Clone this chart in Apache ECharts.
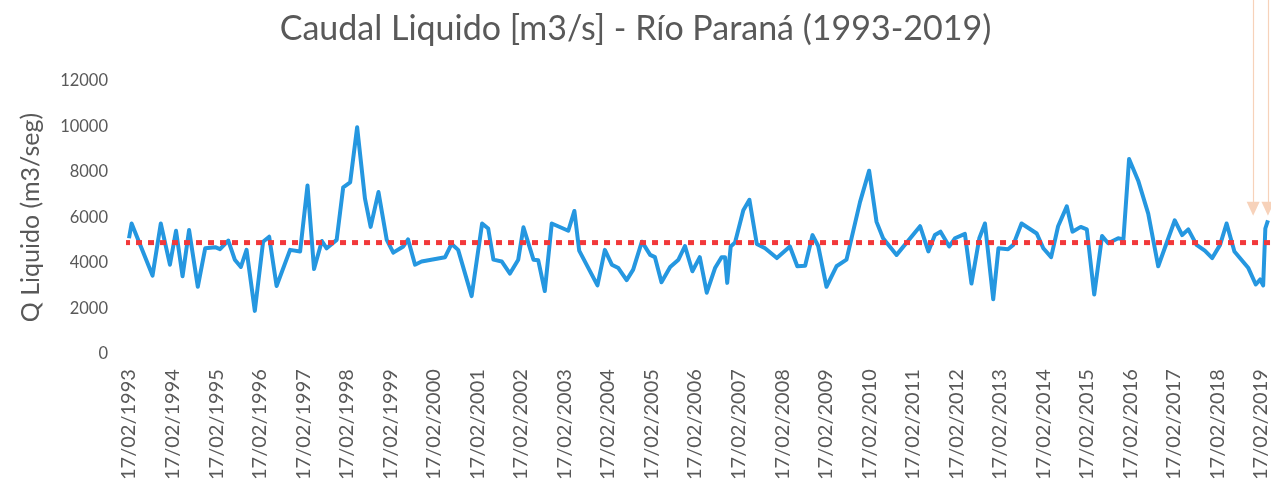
<!DOCTYPE html>
<html>
<head>
<meta charset="utf-8">
<script src="https://cdn.jsdelivr.net/npm/echarts@6/dist/echarts.min.js"></script>
<style>
  html, body { margin: 0; padding: 0; background: #ffffff; }
  #chart { width: 1271px; height: 483px; }
</style>
</head>
<body>
<div id="chart"></div>
<script>
// Años transcurridos desde el 17/02/1993 para cada medición
const aniosDesdeInicio = [
  0.00, 0.06, 0.54, 0.73, 0.94, 1.08, 1.23, 1.38, 1.58, 1.75,
  1.98, 2.09, 2.28, 2.43, 2.57, 2.70, 2.89, 3.08, 3.22, 3.39,
  3.70, 3.93, 4.10, 4.25, 4.43, 4.54, 4.77, 4.92, 5.08, 5.24,
  5.42, 5.55, 5.73, 5.92, 6.07, 6.30, 6.41, 6.57, 6.72, 7.26,
  7.41, 7.56, 7.87, 8.11, 8.25, 8.37, 8.56, 8.75, 8.94, 9.06,
  9.29, 9.40, 9.55, 9.71, 10.09, 10.23, 10.34, 10.76, 10.93, 11.09,
  11.24, 11.43, 11.58, 11.78, 11.97, 12.08, 12.23, 12.43, 12.62, 12.77,
  12.94, 13.11, 13.27, 13.46, 13.61, 13.69, 13.74, 13.82, 13.92, 14.11,
  14.25, 14.42, 14.61, 14.88, 15.18, 15.35, 15.53, 15.70, 15.83, 16.02,
  16.25, 16.48, 16.79, 17.00, 17.17, 17.32, 17.63, 18.17, 18.36, 18.51,
  18.64, 18.84, 18.97, 19.20, 19.35, 19.53, 19.66, 19.85, 19.97, 20.19,
  20.31, 20.50, 20.85, 21.00, 21.18, 21.34, 21.54, 21.67, 21.86, 22.00,
  22.17, 22.35, 22.49, 22.72, 22.84, 22.97, 23.18, 23.41, 23.64, 23.83,
  24.02, 24.19, 24.33, 24.52, 24.71, 24.88, 25.06, 25.21, 25.39, 25.71,
  25.88, 25.98, 26.05, 26.10, 26.16
];

// Caudal líquido medido [m3/s]
const caudal = [
  5090, 5740, 3450, 5740, 3930, 5420, 3420, 5450, 2960, 4650,
  4700, 4610, 4990, 4150, 3830, 4580, 1900, 4940, 5160, 2990,
  4580, 4510, 7410, 3740, 4970, 4650, 5020, 7330, 7550, 9970,
  6830, 5590, 7120, 5020, 4460, 4730, 5040, 3930, 4070, 4260,
  4840, 4580, 2550, 5740, 5520, 4150, 4070, 3540, 4150, 5570,
  4150, 4120, 2770, 5740, 5420, 6290, 4550, 3020, 4580, 3930,
  3780, 3250, 3710, 4940, 4360, 4260, 3160, 3830, 4150, 4750,
  3640, 4260, 2700, 3780, 4260, 4260, 3130, 4730, 4900, 6320,
  6780, 4840, 4650, 4220, 4730, 3860, 3880, 5230, 4750, 2960,
  3860, 4150, 6680, 8060, 5810, 5090, 4360, 5620, 4510, 5230,
  5380, 4730, 5090, 5280, 3100, 5090, 5740, 2410, 4650, 4610,
  4800, 5740, 5300, 4650, 4260, 5620, 6490, 5380, 5590, 5480,
  2620, 5190, 4870, 5090, 5040, 8570, 7620, 6170, 3860, 4870,
  5880, 5230, 5480, 4800, 4550, 4220, 4800, 5740, 4510, 3780,
  3060, 3280, 3020, 5520, 5880
];

// Caudal medio de referencia (línea punteada)
const caudalMedio = 4900;
const tramoMedio = [-0.39, 26.23];

// Etiquetas del eje Y
const ticksY = [0, 2000, 4000, 6000, 8000, 10000, 12000];

const anioInicial = 1993;
const diaMes = '17/02/';

// Flechas de anotación en el extremo derecho (punta en caudal)
const flechasX = [25.82, 26.16];
const flechaPunta = 6450;

const serieCaudal = aniosDesdeInicio.map((t, i) => [t, caudal[i]]);
const serieMedio = tramoMedio.map(t => [t, caudalMedio]);

// Geometría del área de trazado
const H = 483;
const gridTop = 81;
const gridBottom = 126;
const xMax = 26.23;
const yMax = ticksY[ticksY.length - 1];
// Segundo sistema (capa de anotaciones) que llega hasta el borde superior,
// con la misma escala vertical que el eje principal
const yMaxAnot = yMax * (H - gridBottom) / (H - gridBottom - gridTop);

const chart = echarts.init(document.getElementById('chart'), null, { renderer: 'canvas' });

const fuente = 'Lato';
const gris = '#595959';

const ejeOculto = { show: false, splitLine: { show: false } };

chart.setOption({
  animation: false,
  backgroundColor: '#ffffff',
  title: {
    text: 'Caudal Liquido [m3/s] - Río Paraná (1993-2019)',
    left: 'center',
    top: 7,
    textStyle: { fontFamily: fuente, fontSize: 34, fontWeight: 'normal', color: gris }
  },
  grid: [
    { left: 129, right: 0, top: gridTop, bottom: gridBottom, containLabel: false },
    { left: 129, right: 0, top: 0, bottom: gridBottom, containLabel: false }
  ],
  xAxis: [
    {
      type: 'value',
      gridIndex: 0,
      min: 0,
      max: xMax,
      interval: 1,
      axisLine: { show: false },
      axisTick: { show: false },
      splitLine: { show: false },
      axisLabel: {
        rotate: 90,
        margin: 15,
        fontFamily: fuente,
        fontSize: 20,
        color: gris,
        showMaxLabel: false,
        formatter: v => Math.abs(v - Math.round(v)) < 1e-6 ? diaMes + (anioInicial + Math.round(v)) : ''
      }
    },
    Object.assign({ type: 'value', gridIndex: 1, min: 0, max: xMax }, ejeOculto)
  ],
  yAxis: [
    {
      type: 'value',
      gridIndex: 0,
      min: ticksY[0],
      max: yMax,
      interval: ticksY[1] - ticksY[0],
      name: 'Q Liquido (m3/seg)',
      nameLocation: 'middle',
      nameRotate: 90,
      nameGap: 86,
      nameTextStyle: { fontFamily: fuente, fontSize: 25, color: gris },
      axisLine: { show: false },
      axisTick: { show: false },
      splitLine: { show: false },
      axisLabel: {
        margin: 21,
        fontFamily: fuente,
        fontSize: 16.5,
        color: gris,
        formatter: v => String(v)
      }
    },
    Object.assign({ type: 'value', gridIndex: 1, min: 0, max: yMaxAnot }, ejeOculto)
  ],
  series: [
    {
      name: 'Caudal medio',
      type: 'line',
      xAxisIndex: 0,
      yAxisIndex: 0,
      data: serieMedio,
      clip: false,
      symbol: 'none',
      silent: true,
      lineStyle: { color: '#f2383a', width: 5, type: [6, 6], cap: 'butt' },
      z: 3
    },
    {
      name: 'Caudal',
      type: 'line',
      xAxisIndex: 0,
      yAxisIndex: 0,
      data: serieCaudal,
      symbol: 'none',
      lineStyle: { color: '#2597e0', width: 4, join: 'round' },
      z: 2
    },
    {
      name: 'Anotaciones',
      type: 'line',
      xAxisIndex: 1,
      yAxisIndex: 1,
      data: [],
      silent: true,
      markLine: {
        silent: true,
        animation: false,
        symbol: ['none', 'triangle'],
        symbolSize: [13, 14],
        label: { show: false },
        emphasis: { disabled: true },
        lineStyle: { color: '#f7d2ba', width: 1.2, type: 'solid' },
        itemStyle: { color: '#f5b892' },
        data: flechasX.map(x => [
          { coord: [x, yMaxAnot] },
          { coord: [x, flechaPunta] }
        ])
      }
    }
  ]
});
</script>
</body>
</html>
